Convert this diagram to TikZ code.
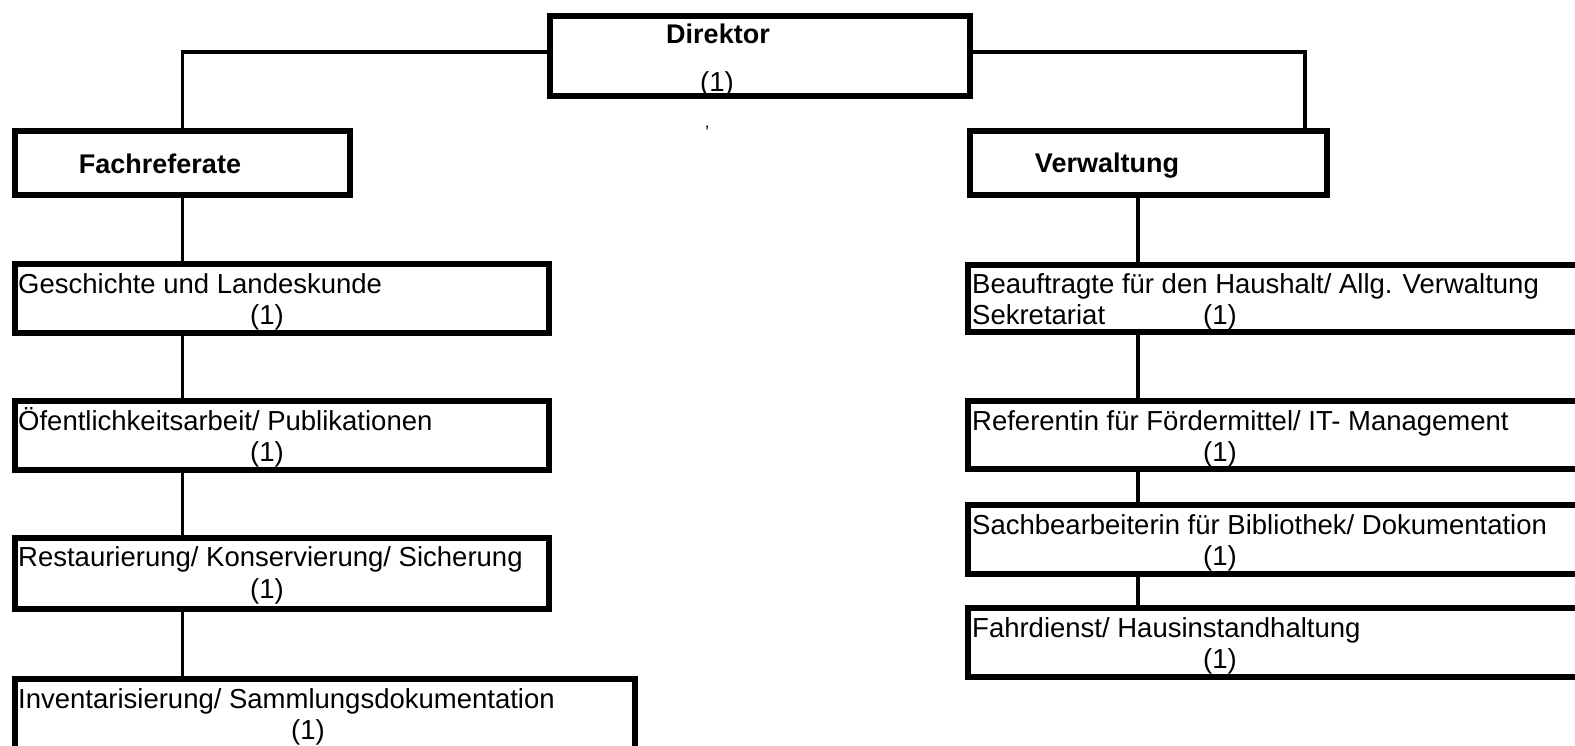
\documentclass[tikz,border=0pt]{standalone}
\usepackage{fontspec}
\setmainfont{Liberation Sans}
\usetikzlibrary{positioning}
\usetikzlibrary{calc}

\tikzset{
  orgbox/.style={draw, line width=6pt, outer sep=0, inner sep=0},
  boxtext/.style={inner sep=0, font=\fontsize{27.5}{32}\selectfont},
  headtext/.style={inner sep=0, font=\fontsize{27}{32}\selectfont\bfseries},
  link/.style={line width=3.5pt}
}

\begin{document}
\begin{tikzpicture}[x=1pt, y=-1pt]
\useasboundingbox (0,0) rectangle (1575,745);

% top and the two branches
\node [orgbox, minimum width=420, minimum height=80] (v1) at (760,56) {};
\node [headtext, anchor=base] (t1) at (718,43) {Direktor};
\node [boxtext, anchor=base] (t1b) at (717,91) {(1)};
\node [boxtext, font=\fontsize{18}{18}\selectfont] (dot) at (707,132) {'};

\node [orgbox, minimum width=335, minimum height=64] (v2) at (182.5,163) {};
\node [headtext, anchor=base] (t2) at (160,173) {Fachreferate};
\node [orgbox, minimum width=357, minimum height=64] (v3) at (1148.5,163) {};
\node [headtext, anchor=base] (t3) at (1107,172) {Verwaltung};

\coordinate (vt) at (1305,131);
\coordinate (rx) at (1138,0);
\draw [link] ([yshift=4pt]v1.west) -| (v2.north);
\draw [link] ([yshift=4pt]v1.east) -| (vt);

% Fachreferate
\node [orgbox, minimum width=534, minimum height=69] (v4) at (282,298.5) {};
\node [boxtext, anchor=base west] (t4) at (18,293) {Geschichte und Landeskunde};
\node [boxtext, anchor=base] (t4b) at (267,324) {(1)};

\node [orgbox, minimum width=534, minimum height=69] (v5) at (282,435.5) {};
\node [boxtext, anchor=base west] (t5) at (18,430) {Öfentlichkeitsarbeit/ Publikationen};
\node [boxtext, anchor=base] (t5b) at (267,461) {(1)};

\node [orgbox, minimum width=534, minimum height=71] (v6) at (282,573.5) {};
\node [boxtext, anchor=base west] (t6) at (18,566) {Restaurierung/ Konservierung/ Sicherung};
\node [boxtext, anchor=base] (t6b) at (267,598) {(1)};

\node [orgbox, minimum width=620, minimum height=73] (v7) at (325,715.5) {};
\node [boxtext, anchor=base west] (t7) at (18,708) {Inventarisierung/ Sammlungsdokumentation};
\node [boxtext, anchor=base] (t7b) at (308,739) {(1)};

\draw [link] (v2.south) -- (v2.south |- v4.north);
\draw [link] (v4.south -| v2.south) -- (v5.north -| v2.south);
\draw [link] (v5.south -| v2.south) -- (v6.north -| v2.south);
\draw [link] (v6.south -| v2.south) -- (v7.north -| v2.south);

% Verwaltung
\node [orgbox, minimum width=617, minimum height=67] (v8) at (1276.5,298.5) {};
\node [boxtext, anchor=base west] (t8) at (972,293) {Beauftragte für den Haushalt/ Allg. Verwaltung};
\node [boxtext, anchor=base west] (t8s) at (972,324) {Sekretariat};
\node [boxtext, anchor=base] (t8b) at (1220,324) {(1)};

\node [orgbox, minimum width=617, minimum height=68] (v9) at (1276.5,435) {};
\node [boxtext, anchor=base west] (t9) at (972,430) {Referentin für Fördermittel/ IT- Management};
\node [boxtext, anchor=base] (t9b) at (1220,461) {(1)};

\node [orgbox, minimum width=617, minimum height=69] (v10) at (1276.5,539.5) {};
\node [boxtext, anchor=base west] (t10) at (972,534) {Sachbearbeiterin für Bibliothek/ Dokumentation};
\node [boxtext, anchor=base] (t10b) at (1220,565) {(1)};

\node [orgbox, minimum width=617, minimum height=69] (v11) at (1276.5,642.5) {};
\node [boxtext, anchor=base west] (t11) at (972,637) {Fahrdienst/ Hausinstandhaltung};
\node [boxtext, anchor=base] (t11b) at (1220,668) {(1)};

\draw [link] (v3.south -| rx) -- (v8.north -| rx);
\draw [link] (v8.south -| rx) -- (v9.north -| rx);
\draw [link] (v9.south -| rx) -- (v10.north -| rx);
\draw [link] (v10.south -| rx) -- (v11.north -| rx);
\end{tikzpicture}
\end{document}
